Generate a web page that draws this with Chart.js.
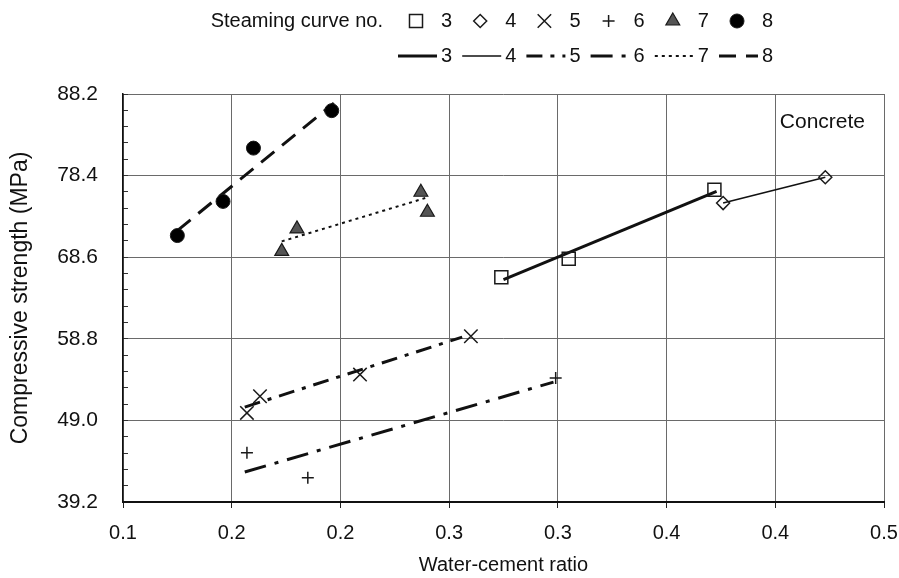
<!DOCTYPE html>
<html>
<head>
<meta charset="utf-8">
<script src="https://cdn.jsdelivr.net/npm/chart.js@4.4.1/dist/chart.umd.min.js"></script>
<style>
  html, body { margin: 0; padding: 0; background: #fff; }
</style>
</head>
<body>
<canvas id="chart" width="899" height="578"></canvas>
<script>
// steaming curve numbers
const curveNames = ['3', '4', '5', '6', '7', '8'];

// measured points: water-cement ratio / compressive strength (MPa)
const curve3X = [0.274, 0.305, 0.372];
const curve3Y = [66.2, 68.4, 76.7];
const curve4X = [0.376, 0.423];
const curve4Y = [75.1, 78.2];
const curve5X = [0.157, 0.163, 0.209, 0.260];
const curve5Y = [49.9, 51.9, 54.5, 59.1];
const curve6X = [0.157, 0.185, 0.299];
const curve6Y = [45.1, 42.1, 54.1];
const curve7X = [0.173, 0.180, 0.237, 0.240];
const curve7Y = [69.3, 72.0, 76.4, 74.0];
const curve8X = [0.125, 0.146, 0.160, 0.196];
const curve8Y = [71.2, 75.3, 81.7, 86.2];

// trend lines (start, end)
const fit3X = [0.275, 0.373];
const fit3Y = [65.9, 76.5];
const fit4X = [0.376, 0.423];
const fit4Y = [75.1, 78.2];
const fit5X = [0.156, 0.256];
const fit5Y = [50.6, 59.0];
const fit6X = [0.156, 0.298];
const fit6Y = [42.8, 53.6];
const fit7X = [0.173, 0.239];
const fit7Y = [70.5, 75.7];
const fit8X = [0.125, 0.197];
const fit8Y = [71.8, 87.1];

// axis ticks
const yTicks = [39.2, 49.0, 58.8, 68.6, 78.4, 88.2];
const xMin = 0.1, xMax = 0.45, xStep = 0.05;

const pts = (xs, ys) => xs.map((x, i) => ({x: x, y: ys[i]}));

// 4 minor ticks between each major y tick
const yAllTicks = [];
yTicks.forEach((v, i) => {
    yAllTicks.push(v);
    if (i < yTicks.length - 1) {
        const d = (yTicks[i + 1] - v) / 5;
        for (let k = 1; k < 5; k++) yAllTicks.push(v + d * k);
    }
});

const FONT = '"Liberation Sans", Arial, sans-serif';
const INK = '#111';
Chart.defaults.font.family = FONT;
Chart.defaults.font.size = 20;
Chart.defaults.color = INK;

const pointSet = (label, data, style, radius, bg, bw) => ({
    label: label, data: data, showLine: false,
    pointStyle: style, pointRadius: radius, pointHoverRadius: radius,
    backgroundColor: bg, borderColor: '#1a1a1a', borderWidth: bw
});
const lineSet = (label, data, width, dash) => ({
    label: label, data: data, showLine: true, pointRadius: 0,
    borderColor: '#111', borderWidth: width, borderDash: dash,
    borderCapStyle: 'butt', tension: 0, fill: false
});

// two-row legend + "Concrete" note
const steamLegend = {
    id: 'steamLegend',
    afterDraw(chart) {
        const ctx = chart.ctx;
        const ds = chart.data.datasets;
        const first = 441, step = 64.2, row1 = 21, row2 = 56;
        ctx.save();
        ctx.font = '20px ' + FONT;
        ctx.fillStyle = INK;
        ctx.textBaseline = 'middle';
        ctx.textAlign = 'right';
        ctx.fillText('Steaming curve no.', first - 58, row1);
        ctx.textAlign = 'left';
        curveNames.forEach((name, i) => {
            const nx = first + i * step;
            ctx.fillStyle = INK;
            ctx.fillText(name, nx, row1);
            ctx.fillText(name, nx, row2);

            const p = ds[i];
            ctx.save();
            ctx.fillStyle = p.backgroundColor;
            ctx.strokeStyle = p.borderColor;
            ctx.lineWidth = p.borderWidth;
            Chart.helpers.drawPoint(ctx, {
                pointStyle: p.pointStyle, radius: p.pointRadius,
                rotation: 0, borderWidth: p.borderWidth
            }, nx - 25, row1);
            ctx.restore();

            const l = ds[i + 6];
            ctx.save();
            ctx.strokeStyle = l.borderColor;
            ctx.lineWidth = l.borderWidth;
            ctx.setLineDash(l.borderDash || []);
            ctx.beginPath();
            ctx.moveTo(nx - 43, row2);
            ctx.lineTo(nx - 4, row2);
            ctx.stroke();
            ctx.restore();
        });
        ctx.fillStyle = INK;
        ctx.font = '21px ' + FONT;
        ctx.textAlign = 'right';
        ctx.textBaseline = 'alphabetic';
        ctx.fillText('Concrete', chart.chartArea.right - 19, chart.chartArea.top + 34);
        ctx.restore();
    }
};

const chart = new Chart(document.getElementById('chart'), {
    type: 'scatter',
    data: {
        datasets: [
            pointSet('3', pts(curve3X, curve3Y), 'rect', 9.2, 'rgba(255,255,255,0)', 1.5),
            pointSet('4', pts(curve4X, curve4Y), 'rectRot', 6.5, 'rgba(255,255,255,0)', 1.5),
            pointSet('5', pts(curve5X, curve5Y), 'crossRot', 9.5, '#1a1a1a', 1.5),
            pointSet('6', pts(curve6X, curve6Y), 'cross', 6, '#1a1a1a', 1.5),
            pointSet('7', pts(curve7X, curve7Y), 'triangle', 8, '#555', 1.2),
            pointSet('8', pts(curve8X, curve8Y), 'circle', 7, '#000', 1),
            lineSet('3', pts(fit3X, fit3Y), 3, []),
            lineSet('4', pts(fit4X, fit4Y), 1.6, []),
            lineSet('5', pts(fit5X, fit5Y), 3, [16, 8, 4, 8]),
            lineSet('6', pts(fit6X, fit6Y), 3, [22, 9, 4, 9]),
            lineSet('7', pts(fit7X, fit7Y), 2, [3, 4]),
            lineSet('8', pts(fit8X, fit8Y), 3, [17, 10])
        ]
    },
    options: {
        responsive: false,
        animation: false,
        layout: { padding: { top: 94, right: 15, bottom: 0, left: 0 } },
        plugins: {
            legend: { display: false },
            tooltip: { enabled: false }
        },
        scales: {
            x: {
                type: 'linear',
                min: xMin,
                max: xMax,
                ticks: {
                    stepSize: xStep,
                    autoSkip: false,
                    maxRotation: 0,
                    padding: 13,
                    // labels shown rounded to one decimal, as in the source figure
                    callback: v => (Math.ceil(Math.round(v * 20) / 2) / 10).toFixed(1)
                },
                grid: { color: '#6a6a6a', lineWidth: 1, tickLength: 6, tickColor: '#222' },
                border: { color: INK, width: 2 },
                title: { display: true, text: 'Water-cement ratio', padding: { top: 0, bottom: 1 } },
                afterFit: s => { s.height = 76; s.paddingLeft = 0; s.paddingRight = 0; }
            },
            y: {
                type: 'linear',
                min: yTicks[0],
                max: yTicks[yTicks.length - 1],
                afterBuildTicks: s => { s.ticks = yAllTicks.map(v => ({value: v})); },
                ticks: {
                    autoSkip: false,
                    padding: 30,
                    font: { size: 21 },
                    callback: (v, i) => i % 5 === 0 ? v.toFixed(1) : ''
                },
                grid: {
                    color: c => c.index % 5 === 0 ? '#6a6a6a' : 'rgba(0,0,0,0)',
                    tickColor: '#333',
                    tickLength: -5
                },
                border: { color: INK, width: 1.5 },
                title: {
                    display: true, text: 'Compressive strength (MPa)',
                    font: { size: 23 }, padding: { top: 7, bottom: 0 }
                },
                afterFit: s => { s.width = 123; s.paddingTop = 0; s.paddingBottom = 0; }
            }
        }
    },
    plugins: [steamLegend]
});
</script>
</body>
</html>
